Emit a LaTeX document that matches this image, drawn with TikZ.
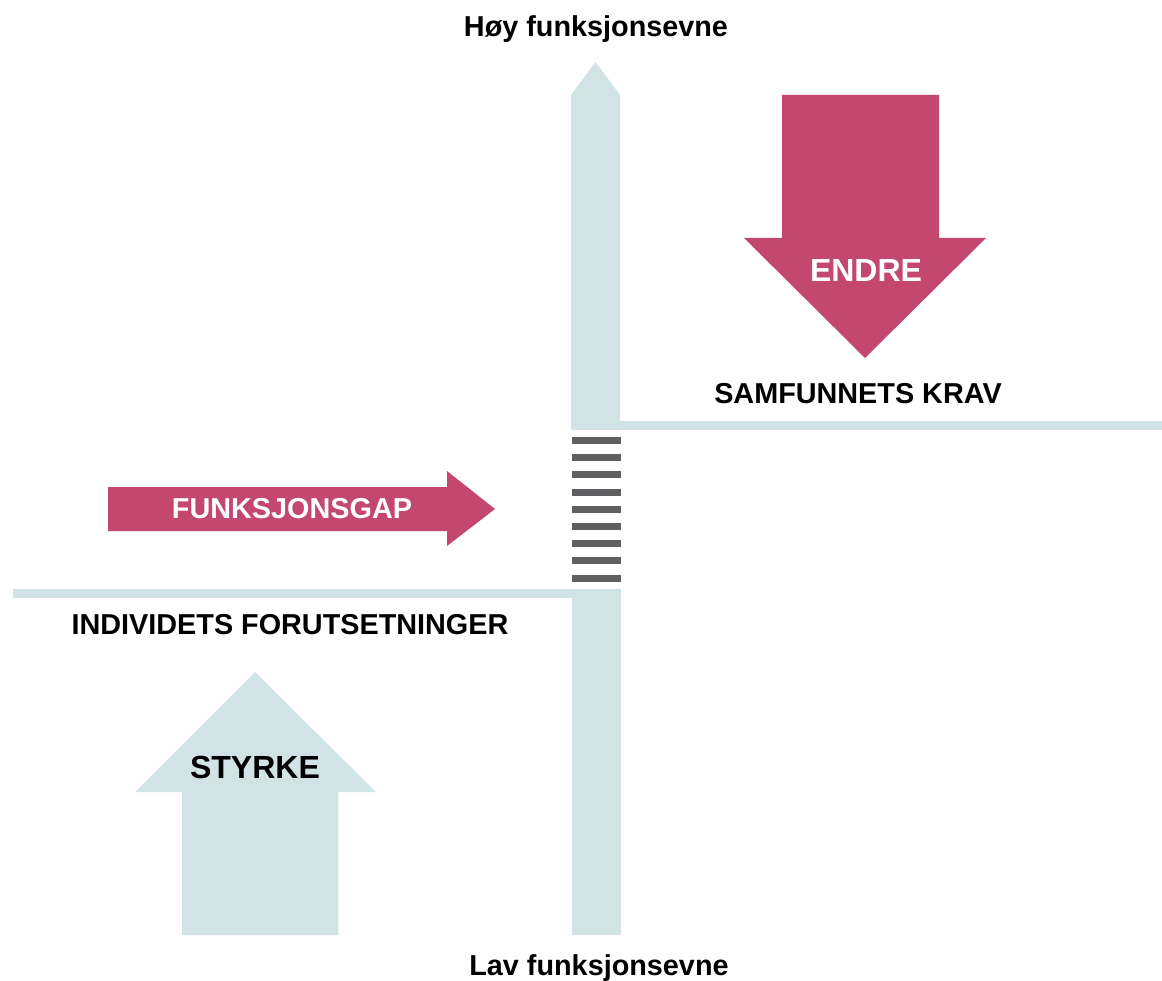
\documentclass[tikz,border=0pt]{standalone}
\usepackage{fontspec}
\setmainfont{Liberation Sans}
\usetikzlibrary{calc}

\definecolor{axisblue}{HTML}{D1E3E5}
\definecolor{gappink}{HTML}{C4476F}
\definecolor{rung}{HTML}{5F5F61}

\tikzset{
  label/.style={anchor=base, inner sep=0pt, font=\bfseries\fontsize{28.8}{34}\selectfont},
  biglabel/.style={label, font=\bfseries\fontsize{32}{38}\selectfont},
}

\begin{document}
\begin{tikzpicture}[x=1pt, y=-1pt]
\useasboundingbox (0,0) rectangle (1162,981);

% axis with the two levels
\fill[axisblue] (571,430) -- (571,95) -- (595.5,62) -- (620,95) -- (620,430) -- cycle;
\fill[axisblue] (571,421) rectangle (1162,430);
\fill[axisblue] (13,589) rectangle (621,598);
\fill[axisblue] (572,589) rectangle (621,935);

% the gap
\foreach \i in {0,...,8} \fill[rung] (572,{437+17.2*\i}) rectangle ++(49,7);

% arrows
\fill[gappink] (782,95) -- (939,95) -- (939,238) -- (986,238) -- (865,358) -- (744,238) -- (782,238) -- cycle;
\fill[gappink] (108,487) -- (447,487) -- (447,471) -- (495,509) -- (447,546) -- (447,531) -- (108,531) -- cycle;
\fill[axisblue] (182,935) -- (182,792) -- (135,792) -- (255,672) -- (376,792) -- (338,792) -- (338,935) -- cycle;

\node[label] (hoy) at (596,37) {Høy funksjonsevne};
\node[label] (lav) at (599,975) {Lav funksjonsevne};
\node[label] (krav) at (858,403) {SAMFUNNETS KRAV};
\node[label] (individ) at (290,634) {INDIVIDETS FORUTSETNINGER};
\node[biglabel, text=white] (endre) at (866,282) {ENDRE};
\node[label, text=white] (gap) at (292,518) {FUNKSJONSGAP};
\node[biglabel] (styrke) at (255,778) {STYRKE};

\end{tikzpicture}
\end{document}
